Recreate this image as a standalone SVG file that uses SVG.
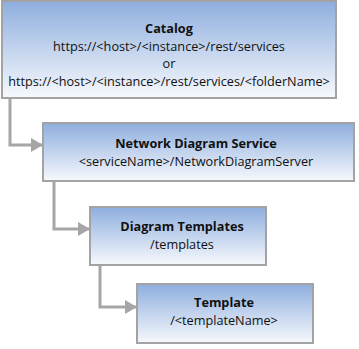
<svg xmlns="http://www.w3.org/2000/svg" width="359" height="349" viewBox="0 0 359 349">
<defs>
<linearGradient id="g" x1="0" y1="0" x2="0" y2="1">
<stop offset="0" stop-color="#8eaede"/>
<stop offset="1" stop-color="#f7f9fd"/>
</linearGradient>
<marker id="arr" markerWidth="12" markerHeight="14" refX="11" refY="7" orient="auto" markerUnits="userSpaceOnUse">
<path d="M0,0 L12,7 L0,14 Z" fill="#a6a6a6"/>
</marker>
<style>
.box{fill:url(#g);stroke:#a3a3a3;stroke-width:2}
.t{font-family:"Open Sans","DejaVu Sans",sans-serif;font-size:12.7px;fill:#111;text-anchor:middle}
.b{font-weight:bold}
.c{fill:none;stroke:#a6a6a6;stroke-width:3}
</style>
</defs>
<rect width="359" height="349" fill="#fff"/>
<g id="connectors">
<path class="c" d="M10,98 V145 H42" marker-end="url(#arr)"/>
<path class="c" d="M54,181 V229 H89" marker-end="url(#arr)"/>
<path class="c" d="M100,265 V307 H136" marker-end="url(#arr)"/>
</g>
<g id="catalog">
<rect class="box" x="2" y="1" width="334" height="97"/>
<text class="t b" x="169" y="33">Catalog</text>
<text class="t" x="169" y="50.5">https://&lt;host&gt;/&lt;instance&gt;/rest/services</text>
<text class="t" x="169" y="68">or</text>
<text class="t" x="169" y="85.5">https://&lt;host&gt;/&lt;instance&gt;/rest/services/&lt;folderName&gt;</text>
</g>
<g id="service">
<rect class="box" x="43" y="123" width="311" height="58"/>
<text class="t b" x="196" y="148">Network Diagram Service</text>
<text class="t" x="196" y="166">&lt;serviceName&gt;/NetworkDiagramServer</text>
</g>
<g id="templates">
<rect class="box" x="90" y="207" width="176" height="58"/>
<text class="t b" x="182" y="231">Diagram Templates</text>
<text class="t" x="182" y="248.5">/templates</text>
</g>
<g id="template">
<rect class="box" x="137" y="284" width="176" height="59"/>
<text class="t b" x="224" y="307">Template</text>
<text class="t" x="224" y="324.5">/&lt;templateName&gt;</text>
</g>
</svg>
